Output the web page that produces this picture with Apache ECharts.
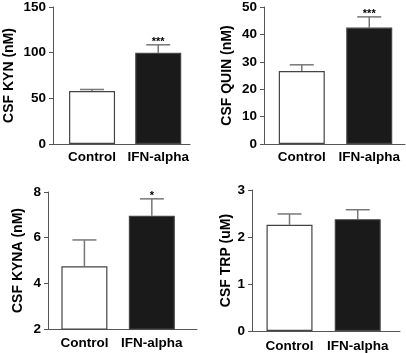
<!DOCTYPE html>
<html>
<head>
<meta charset="utf-8">
<script src="https://cdn.jsdelivr.net/npm/echarts@6/dist/echarts.min.js"></script>
<style>html,body{margin:0;padding:0;background:#fff}#c{width:406px;height:353px}</style>
</head>
<body>
<div id="c"></div>
<script>
const categories = ['Control', 'IFN-alpha'];
const kynMean = [58, 100];
const kynErr = [1.7, 8.6];
const kynSig = ['', '***'];
const quinMean = [26.6, 42.5];
const quinErr = [2.3, 3.9];
const quinSig = ['', '***'];
const kynaMean = [4.75, 6.96];
const kynaErr = [1.15, 0.74];
const kynaSig = ['', '*'];
const trpMean = [2.26, 2.38];
const trpErr = [0.23, 0.2];
const trpSig = ['', ''];
const kynTicks = [0, 150, 50];
const quinTicks = [0, 50, 10];
const kynaTicks = [2, 8, 2];
const trpTicks = [0, 3, 1];

const FONT = '"Liberation Sans", Arial, sans-serif';
const panels = [
  {name: 'CSF KYN (nM)', mean: kynMean, err: kynErr, sig: kynSig, ticks: kynTicks,
   grid: {left: 53, top: 5, width: 137, height: 139}, xmin: -0.59, xmax: 1.48, gap: 37, lm: 6},
  {name: 'CSF QUIN (nM)', mean: quinMean, err: quinErr, sig: quinSig, ticks: quinTicks,
   grid: {left: 264, top: 5, width: 141, height: 139}, xmin: -0.56, xmax: 1.53, gap: 30, lm: 6},
  {name: 'CSF KYNA (nM)', mean: kynaMean, err: kynaErr, sig: kynaSig, ticks: kynaTicks,
   grid: {left: 48, top: 192, width: 149, height: 137}, xmin: -0.54, xmax: 1.67, gap: 23, lm: 7},
  {name: 'CSF TRP (uM)', mean: trpMean, err: trpErr, sig: trpSig, ticks: trpTicks,
   grid: {left: 252, top: 190, width: 148, height: 143}, xmin: -0.55, xmax: 1.62, gap: 13, lm: 8}
];

const grid = [], xAxis = [], yAxis = [], series = [];
const fills = ['#ffffff', '#1a1a1a'];
panels.forEach((p, i) => {
  grid.push(p.grid);
  xAxis.push({
    type: 'value', gridIndex: i, min: p.xmin, max: p.xmax,
    axisLine: {show: true, onZero: false, lineStyle: {color: '#555', width: 1}},
    axisTick: {show: false}, splitLine: {show: false},
    axisLabel: {customValues: [0, 1], formatter: v => categories[Math.round(v)],
      color: '#000', fontWeight: 'bold', fontSize: 13.5, fontFamily: FONT, margin: p.lm}
  });
  yAxis.push({
    type: 'value', gridIndex: i, min: p.ticks[0], max: p.ticks[1], interval: p.ticks[2],
    name: p.name, nameLocation: 'middle', nameRotate: 90, nameGap: p.gap,
    nameTextStyle: {color: '#000', fontWeight: 'bold', fontSize: 14, fontFamily: FONT},
    axisLine: {show: true, onZero: false, lineStyle: {color: '#555', width: 1}},
    axisTick: {show: true, length: 4, inside: false, lineStyle: {color: '#555'}},
    splitLine: {show: false},
    axisLabel: {color: '#000', fontWeight: 'bold', fontSize: 13.5, fontFamily: FONT, margin: 7}
  });
  series.push({
    type: 'bar', xAxisIndex: i, yAxisIndex: i, barWidth: 46, startValue: p.ticks[0],
    data: p.mean.map((m, k) => ({value: [k, m], itemStyle: {color: fills[k], borderColor: '#444', borderWidth: 1.2}})),
    silent: true, animation: false
  });
  const sig = p.sig;
  series.push({
    type: 'custom', xAxisIndex: i, yAxisIndex: i, silent: true, animation: false, clip: false,
    data: p.mean.map((m, k) => [k, m, p.err[k]]),
    renderItem: (params, api) => {
      const x = api.value(0), m = api.value(1), e = api.value(2);
      const b = api.coord([x, m]), t = api.coord([x, m + e]);
      const s = {stroke: '#777', lineWidth: 1.5};
      return {type: 'group', children: [
        {type: 'line', shape: {x1: b[0], y1: b[1], x2: t[0], y2: t[1]}, style: s},
        {type: 'line', shape: {x1: t[0] - 12, y1: t[1], x2: t[0] + 12, y2: t[1]}, style: s},
        {type: 'text', style: {text: sig[params.dataIndex], x: t[0], y: t[1] - 3,
          align: 'center', verticalAlign: 'middle', font: 'bold 11px ' + FONT, fill: '#000'}}
      ]};
    }
  });
});

const chart = echarts.init(document.getElementById('c'), null, {renderer: 'canvas'});
chart.setOption({animation: false, grid, xAxis, yAxis, series});
</script>
</body>
</html>
